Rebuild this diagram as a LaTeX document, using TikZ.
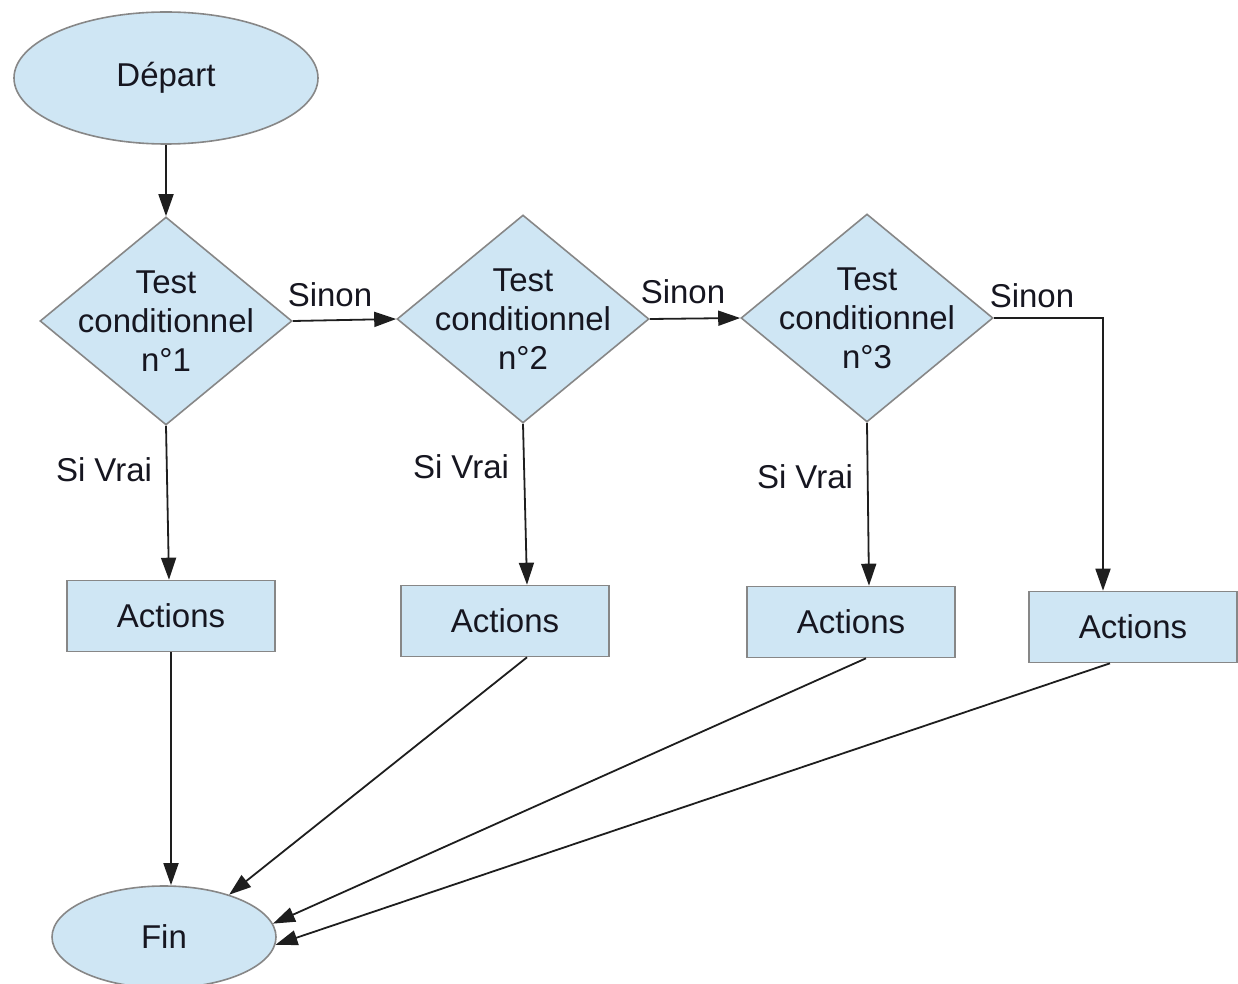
\documentclass[tikz,border=0pt]{standalone}
\usepackage{fontspec}
\setmainfont{Liberation Sans}
\usetikzlibrary{shapes.geometric,arrows.meta,calc}
\definecolor{boxfill}{RGB}{207,230,244}
\definecolor{boxline}{RGB}{135,135,135}
\definecolor{txt}{RGB}{22,22,32}
\definecolor{lnc}{RGB}{30,30,30}
\begin{document}
\begin{tikzpicture}[x=0.5pt,y=-0.5pt,
  every node/.style={font=\fontsize{16.5}{19.5}\selectfont, text=txt},
  shapebase/.style={draw=boxline, fill=boxfill, line width=0.8pt, inner sep=0pt},
  term/.style={shapebase, ellipse},
  test/.style={shapebase, diamond, minimum width=126pt, minimum height=104pt},
  actbox/.style={shapebase, rectangle, minimum width=104pt, minimum height=35.5pt},
  arr/.style={draw=lnc, line width=0.9pt, -{Triangle[length=11pt,width=7.5pt]}},
  lbl/.style={inner sep=0pt}
]
\useasboundingbox (0,0) rectangle (1238,984);

% nodes
\node[term, minimum width=152pt, minimum height=66pt] (dep) at (166,78) {Départ};
\node[test, label={[align=center, name=t1]center:Test\\conditionnel\\n°1}] (d1) at (166,321) {};
\node[test, label={[align=center, name=t2]center:Test\\conditionnel\\n°2}] (d2) at (523,319) {};
\node[test, label={[align=center, name=t3]center:Test\\conditionnel\\n°3}] (d3) at (867,318) {};
\node[actbox] (a1) at (171,616) {Actions};
\node[actbox] (a2) at (505,621) {Actions};
\node[actbox] (a3) at (851,622) {Actions};
\node[actbox] (a4) at (1133,627) {Actions};
\node[term, minimum width=112pt, minimum height=51pt] (fin) at (164,937) {Fin};

% labels
\node[lbl] (s1) at (330,295) {Sinon};
\node[lbl] (s2) at (683,292) {Sinon};
\node[lbl] (s3) at (1032,296) {Sinon};
\node[lbl] (v1) at (104,470) {Si Vrai};
\node[lbl] (v2) at (461,467) {Si Vrai};
\node[lbl] (v3) at (805,477) {Si Vrai};

% connectors
\draw[arr] (dep.south) -- (d1.north);
\draw[arr] (d1.east) -- (d2.west);
\draw[arr] (d2.east) -- (d3.west);
\draw[arr] (d3.east) -| ($(a4.north)+(-30,0)$);
\draw[arr] (d1.south) -- ($(a1.north)+(-2,0)$);
\draw[arr] (d2.south) -- ($(a2.north)+(22,0)$);
\draw[arr] (d3.south) -- ($(a3.north)+(18,0)$);
\draw[arr] (a1.south) -- (a1.south |- fin.north);
\draw[arr] ($(a2.south)+(22,0)$) -- (fin.33);
\draw[arr] ($(a3.south)+(15,0)$) -- (fin.7);
\draw[arr] ($(a4.south)+(-23,0)$) -- (fin.-4);
\end{tikzpicture}
\end{document}
